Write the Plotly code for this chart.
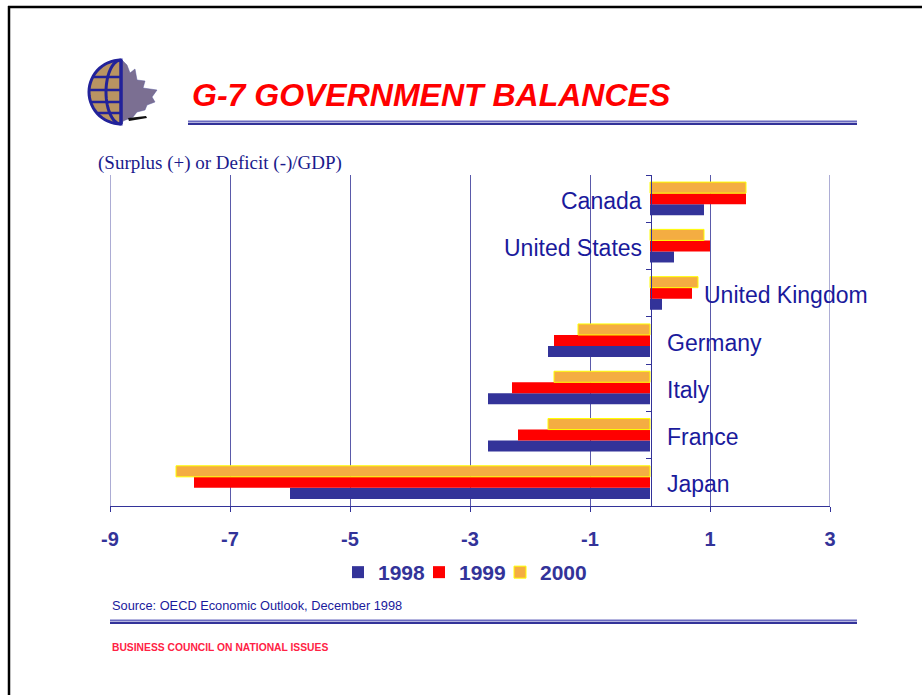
import math
import plotly.graph_objects as go

# ---- data: general government balance, % of GDP ----
countries = ["Japan", "France", "Italy", "Germany", "United Kingdom", "United States", "Canada"]
bal_1998 = [-6.0, -2.7, -2.7, -1.7, 0.2, 0.4, 0.9]
bal_1999 = [-7.6, -2.2, -2.3, -1.6, 0.7, 1.0, 1.6]
bal_2000 = [-7.9, -1.7, -1.6, -1.2, 0.8, 0.9, 1.6]
years = ["1998", "1999", "2000"]
x_ticks = [-9, -7, -5, -3, -1, 1, 3]

W, H = 922, 695
NAVY = "#333399"
GRID = "#5a5aaa"
LABEL_BLUE = "#1a1a9c"
SANS = "Liberation Sans, Arial, sans-serif"
SERIF = "Liberation Serif, Times New Roman, serif"


def px(x):
    return x / W


def py(y):
    return 1 - y / H


def path_from(points, close=True):
    s = "M " + " L ".join(f"{px(x):.5f},{py(y):.5f}" for x, y in points)
    return s + (" Z" if close else "")


fig = go.Figure()

styles = {
    "1998": dict(color=NAVY, line=dict(width=0)),
    "1999": dict(color="#ff0000", line=dict(width=0)),
    "2000": dict(color="#f4ad42", line=dict(color="#ffff00", width=1)),
}
for name, vals in zip(years, [bal_1998, bal_1999, bal_2000]):
    fig.add_trace(go.Bar(
        y=countries, x=vals, name=name, orientation="h",
        marker=styles[name],
    ))

# blank legend slot so the last (fixed-width) entry keeps its full text
fig.add_trace(go.Scatter(
    x=[None], y=[None], mode="markers", name=" ",
    marker=dict(color="rgba(0,0,0,0)"), hoverinfo="skip",
))

# ---- country labels beside the zero line ----
annotations = []
for i, c in enumerate(countries):
    hi = max(bal_1998[i], bal_1999[i], bal_2000[i])
    lo = min(bal_1998[i], bal_1999[i], bal_2000[i])
    if lo < 0:
        xpos, anchor = 0.25, "left"
    elif c == "United Kingdom":
        xpos, anchor = hi + 0.06, "left"
    else:
        xpos, anchor = -0.1, "right"
    annotations.append(dict(
        x=xpos, y=c, xref="x", yref="y", text=c, showarrow=False,
        xanchor=anchor, yanchor="middle", yshift=-2,
        font=dict(family=SANS, size=23, color=LABEL_BLUE),
    ))

# ---- titles and notes ----
annotations += [
    dict(x=px(190), y=py(95), xref="paper", yref="paper", showarrow=False,
         text="<b><i>G-7 GOVERNMENT BALANCES</i></b>", xanchor="left", yanchor="middle",
         font=dict(family=SANS, size=32, color="#ff0000")),
    dict(x=px(96), y=py(163), xref="paper", yref="paper", showarrow=False,
         text="(Surplus (+) or Deficit (-)/GDP)", xanchor="left", yanchor="middle",
         font=dict(family=SERIF, size=19, color="#1a1a8c")),
    dict(x=px(110), y=py(605), xref="paper", yref="paper", showarrow=False,
         text="Source: OECD Economic Outlook, December 1998", xanchor="left", yanchor="middle",
         font=dict(family=SANS, size=12.8, color=LABEL_BLUE)),
    dict(x=px(110), y=py(647), xref="paper", yref="paper", showarrow=False,
         text="<b>BUSINESS COUNCIL ON NATIONAL ISSUES</b>", xanchor="left", yanchor="middle",
         font=dict(family=SANS, size=10.3, color="#ff2244")),
]

# ---- decorative shapes: frame, rules, logo ----
shapes = []


def hline(x0, x1, y, color, width):
    shapes.append(dict(type="line", xref="paper", yref="paper",
                       x0=px(x0), x1=px(x1), y0=py(y), y1=py(y),
                       line=dict(color=color, width=width)))


def vline(x, y0, y1, color, width):
    shapes.append(dict(type="line", xref="paper", yref="paper",
                       x0=px(x), x1=px(x), y0=py(y0), y1=py(y1),
                       line=dict(color=color, width=width)))


# gridlines at the two ends of the value axis
for edge in (x_ticks[0], x_ticks[-1]):
    shapes.append(dict(type="line", xref="x", yref="y domain",
                       x0=edge, x1=edge, y0=0, y1=1,
                       line=dict(color=GRID, width=1), layer="below"))

# page frame
hline(8, W, 7, "#000000", 2.5)
vline(9, 6, H, "#000000", 2.5)

# double rules under the heading and above the footer
hline(188, 857, 121.5, "#6a6ac0", 2)
hline(188, 857, 124, NAVY, 2)
hline(110, 857, 620.5, "#6a6ac0", 2)
hline(110, 857, 623, NAVY, 2)

# logo: maple leaf behind a half globe
leaf = [(122, 60), (127, 65), (130, 73), (135, 69), (137, 80), (145, 81), (143, 88),
        (157, 90), (152, 97), (155, 102), (147, 105), (145, 110), (137, 112),
        (133, 117), (123, 121), (122, 124)]
shapes.append(dict(type="path", xref="paper", yref="paper", path=path_from(leaf),
                   fillcolor="#7b6f92", line=dict(color="#5a5a9a", width=0.5)))
shapes.append(dict(type="path", xref="paper", yref="paper",
                   path=path_from([(128, 118), (146, 116), (147, 118), (129, 121)]),
                   fillcolor="#111111", line=dict(width=0)))

cx, cy, r = 121, 92, 32
half = [(cx + r * math.cos(math.radians(a)), cy + r * math.sin(math.radians(a)))
        for a in range(90, 271, 6)]
shapes.append(dict(type="path", xref="paper", yref="paper", path=path_from(half),
                   fillcolor="#b99462", line=dict(color="#22229a", width=3)))
inner = [(cx + 15 * math.cos(math.radians(a)), cy + r * math.sin(math.radians(a)))
         for a in range(90, 271, 6)]
shapes.append(dict(type="path", xref="paper", yref="paper", path=path_from(inner, close=False),
                   line=dict(color="#22229a", width=3)))
for ly in (77, 90, 102, 113):
    dx = math.sqrt(max(r * r - (ly - cy) ** 2, 0))
    hline(cx - dx + 1, cx, ly, "#22229a", 2.5)
vline(cx, 60, 124, "#22229a", 3)

fig.update_layout(
    width=W, height=H,
    margin=dict(l=0, r=0, t=0, b=0, autoexpand=False),
    paper_bgcolor="white", plot_bgcolor="white",
    barmode="group", bargap=0.3, bargroupgap=0,
    font=dict(family=SANS, color=NAVY),
    xaxis=dict(
        domain=[px(110), px(830)], range=[-9, 3],
        tickmode="array", tickvals=x_ticks, ticktext=[str(t) for t in x_ticks],
        showgrid=True, gridcolor=GRID, gridwidth=1,
        showline=True, linecolor=NAVY, linewidth=1,
        ticks="outside", ticklen=5, tickcolor=NAVY,
        ticklabelstandoff=10,
        zeroline=False,
        tickfont=dict(family=SANS, size=20, color=NAVY, weight="bold"),
    ),
    yaxis=dict(
        domain=[py(506), py(175)],
        type="category", categoryorder="array", categoryarray=countries,
        range=[-0.5, len(countries) - 0.5],
        anchor="free", position=px(651),
        showline=True, linecolor=NAVY, linewidth=1,
        ticks="outside", tickson="boundaries", ticklen=5, tickcolor=NAVY,
        showticklabels=False, showgrid=False, zeroline=False,
    ),
    legend=dict(
        orientation="h", x=px(338), y=py(552), xanchor="left", yanchor="top",
        traceorder="normal", bgcolor="rgba(0,0,0,0)",
        entrywidth=36, entrywidthmode="pixels",
        font=dict(family=SANS, size=21, color=NAVY, weight="bold"),
    ),
    annotations=annotations,
    shapes=shapes,
)

fig.write_html("out.html")
